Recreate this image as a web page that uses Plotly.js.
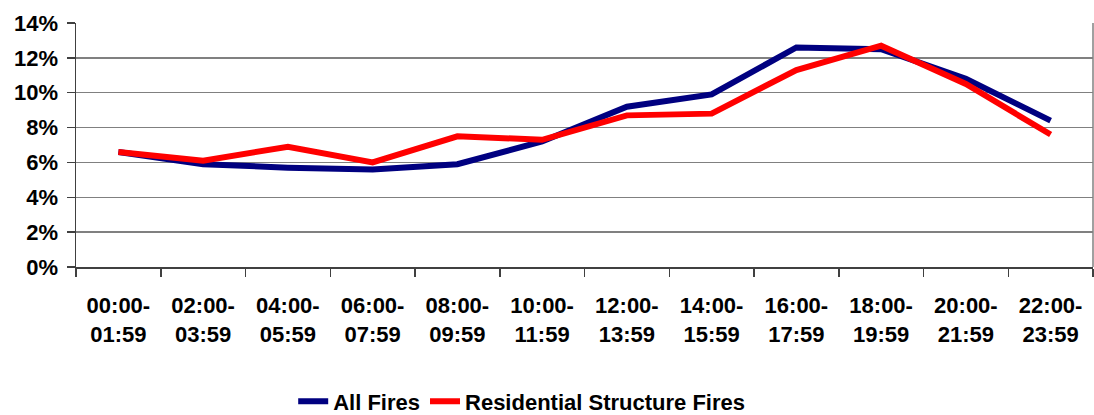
<!DOCTYPE html>
<html>
<head>
<meta charset="utf-8">
<script src="https://cdn.plot.ly/plotly-3.0.1.min.js"></script>
<style>
  html, body { margin: 0; padding: 0; background: #ffffff; }
  #chart { width: 1094px; height: 415px; }
</style>
</head>
<body>
<div id="chart"></div>
<script>
// Two-hour time blocks of the day
const startLabels = ['00:00-', '02:00-', '04:00-', '06:00-', '08:00-', '10:00-',
                     '12:00-', '14:00-', '16:00-', '18:00-', '20:00-', '22:00-'];
const endLabels   = ['01:59', '03:59', '05:59', '07:59', '09:59', '11:59',
                     '13:59', '15:59', '17:59', '19:59', '21:59', '23:59'];
const categories = startLabels.map((s, i) => s + endLabels[i]);

// Share of fires in each time block (fraction of total)
const allFires         = [0.066, 0.059, 0.057, 0.056, 0.059, 0.072, 0.092, 0.099, 0.126, 0.125, 0.108, 0.084];
const residentialFires = [0.066, 0.061, 0.069, 0.060, 0.075, 0.073, 0.087, 0.088, 0.113, 0.127, 0.105, 0.076];

const yTicks = [0, 0.02, 0.04, 0.06, 0.08, 0.10, 0.12, 0.14];

const family = '"Liberation Sans", Arial, sans-serif';

const traces = [
  {
    x: categories, y: allFires, name: '<b>All Fires</b>',
    type: 'scatter', mode: 'lines',
    line: { color: '#000080', width: 6 }
  },
  {
    x: categories, y: residentialFires, name: '<b>Residential Structure Fires</b>',
    type: 'scatter', mode: 'lines',
    line: { color: '#ff0000', width: 6 }
  }
];

const layout = {
  width: 1094, height: 415,
  margin: { l: 76, r: 1, t: 23, b: 148, autoexpand: false },
  paper_bgcolor: '#ffffff', plot_bgcolor: '#ffffff',
  font: { family: family, size: 22, color: '#000000' },
  showlegend: true,
  legend: {
    orientation: 'h',
    xref: 'container', x: 0.268, xanchor: 'left',
    yref: 'container', y: 0.083, yanchor: 'top',
    font: { family: family, size: 22, color: '#000000' },
    itemwidth: 30, tracegroupgap: 0
  },
  xaxis: {
    type: 'category', automargin: false,
    tickmode: 'array', tickvals: categories,
    ticktext: startLabels.map((s, i) => '<b>' + s + '</b><br><b>' + endLabels[i] + '</b>'),
    tickson: 'boundaries', ticks: 'outside', ticklen: 8, tickcolor: '#404040', tickwidth: 1.5,
    showline: true, linecolor: '#404040', linewidth: 1.5,
    showgrid: false, zeroline: false,
    range: [-0.5, 11.5],
    tickfont: { family: family, size: 22, color: '#000000' },
    ticklabelstandoff: 18
  },
  yaxis: {
    range: [0, 0.14], automargin: false,
    tickmode: 'array', tickvals: yTicks,
    ticktext: yTicks.map(v => '<b>' + Math.round(v * 100) + '%</b>'),
    ticks: 'outside', ticklen: 8, tickcolor: '#404040', tickwidth: 1.5,
    showline: true, linecolor: '#404040', linewidth: 1.5,
    showgrid: true, gridcolor: '#808080', gridwidth: 1.5,
    zeroline: false,
    tickfont: { family: family, size: 22, color: '#000000' },
    ticklabelstandoff: 4
  },
  shapes: [
    // right-hand border of the plotting area
    { type: 'line', xref: 'paper', yref: 'paper', x0: 1, x1: 1, y0: 0, y1: 1,
      line: { color: '#808080', width: 1.5 } }
  ]
};

Plotly.newPlot('chart', traces, layout, { displayModeBar: false, staticPlot: true });
</script>
</body>
</html>
